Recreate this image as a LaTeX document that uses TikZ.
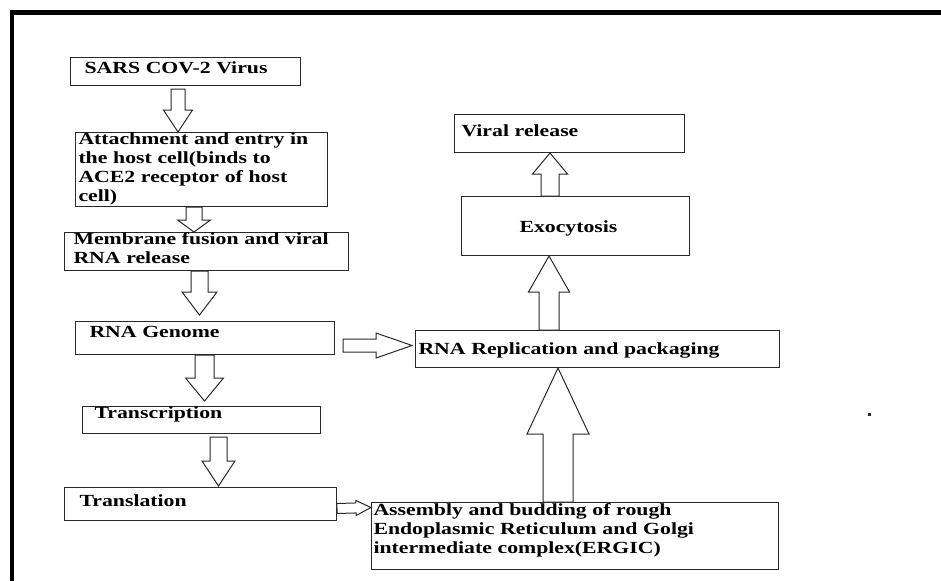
\documentclass[tikz,border=0pt]{standalone}
\usepackage{fontspec}
\setmainfont{Liberation Serif}[FakeStretch=1.28]
\usetikzlibrary{positioning, calc}
\definecolor{boxline}{RGB}{40, 40, 40}

\tikzset{
  stepbox/.style={draw=boxline, line width=1pt, anchor=north west, inner ysep=0pt, align=left,
    font=\fontsize{17}{19}\selectfont\bfseries},
  blockline/.style={draw=boxline, line width=1pt, fill=white, line join=miter},
}

% hollow block arrow: from, to, shaft half-width, head half-width, head length
\newcommand{\blockarrow}[5]{%
  \path[blockline] ($(#1)!#3!90:(#2)$) -- ($(#2)!#5!(#1)!#3!90:(#2)$) -- ($(#2)!#5!(#1)!#4!90:(#2)$)
    -- (#2) -- ($(#2)!#5!(#1)!#4!-90:(#2)$) -- ($(#2)!#5!(#1)!#3!-90:(#2)$) -- ($(#1)!#3!-90:(#2)$) -- cycle;
}

\begin{document}
\begin{tikzpicture}[x=1pt, y=-1pt]
  \useasboundingbox (0,0) rectangle (941,581);
  \draw[line width=4.5pt] (941,12.3) -- (12,12.3) -- (12,581);

  % left column
  \node[stepbox, inner xsep=14pt, text width=202pt, text height=16pt, text depth=12pt] (sars) at (70,57) {SARS COV-2 Virus};
  \node[stepbox, inner xsep=3pt, text width=246pt, text height=12pt, text depth=62pt] (attach) at (75,132)
    {Attachment and entry in\\the host cell(binds to\\ACE2 receptor of host\\cell)};
  \node[stepbox, inner xsep=9pt, text width=266pt, text height=12pt, text depth=26pt] (fusion) at (64,232)
    {Membrane fusion and viral\\RNA release};
  \node[stepbox, inner xsep=14pt, text width=231pt, text height=16pt, text depth=17pt] (genome) at (75,321) {RNA Genome};
  \node[stepbox, inner xsep=12pt, text width=214pt, text height=12pt, text depth=15pt] (transcr) at (82,406) {Transcription};
  \node[stepbox, inner xsep=15pt, text width=242pt, text height=19pt, text depth=14pt] (transl) at (64,487) {Translation};

  % right column
  \node[stepbox, inner xsep=2pt, text width=403pt, text height=13pt, text depth=54pt] (ergic) at (371,502)
    {Assembly and budding of rough\\Endoplasmic Reticulum and Golgi\\intermediate complex(ERGIC)};
  \node[stepbox, inner xsep=3pt, text width=358pt, text height=24pt, text depth=13pt] (replic) at (415,330) {RNA Replication and packaging};
  \node[stepbox, inner xsep=58pt, text width=112pt, text height=36pt, text depth=23pt] (exo) at (461,196) {Exocytosis};
  \node[stepbox, inner xsep=7pt, text width=216pt, text height=22pt, text depth=16pt] (release) at (454,114) {Viral release};

  % arrow ends
  \coordinate (a1s) at ($(sars.south west)+(108,3)$);
  \coordinate (a1e) at ($(attach.north west)+(103,0)$);
  \coordinate (a2s) at ($(attach.south west)+(119,0)$);
  \coordinate (a2e) at ($(fusion.north west)+(130,0)$);
  \coordinate (a3s) at ($(fusion.south west)+(135.5,0)$);
  \coordinate (a3e) at ($(genome.north west)+(124.5,-6)$);
  \coordinate (a4s) at ($(genome.south west)+(129.5,0)$);
  \coordinate (a4e) at ($(transcr.north west)+(122.5,-5)$);
  \coordinate (a5s) at ($(transcr.south west)+(136.5,3)$);
  \coordinate (a5e) at ($(transl.north west)+(154.5,-1)$);
  \coordinate (a6s) at ($(transl.south east)+(0,-12.5)$);
  \coordinate (a6e) at ($(ergic.north west)+(0,5.5)$);
  \coordinate (a7s) at ($(genome.north east)+(8,24.5)$);
  \coordinate (a7e) at ($(replic.north west)+(-3,15.5)$);
  \coordinate (a8s) at ($(ergic.north west)+(187,0)$);
  \coordinate (a8e) at ($(replic.south west)+(143,0)$);
  \coordinate (a9s) at ($(replic.north west)+(134,0)$);
  \coordinate (a9e) at ($(exo.south west)+(88,0)$);
  \coordinate (a10s) at ($(exo.north west)+(89,0)$);
  \coordinate (a10e) at ($(release.south west)+(96,0)$);

  \blockarrow{a1s}{a1e}{7pt}{14.5pt}{22pt}
  \blockarrow{a2s}{a2e}{8pt}{16.5pt}{12pt}
  \blockarrow{a3s}{a3e}{8.5pt}{17.5pt}{23pt}
  \blockarrow{a4s}{a4e}{9.5pt}{19pt}{23pt}
  \blockarrow{a5s}{a5e}{8.5pt}{16.5pt}{25pt}
  \blockarrow{a6s}{a6e}{5pt}{7.5pt}{15pt}
  \blockarrow{a7s}{a7e}{6.5pt}{12.5pt}{36pt}
  \blockarrow{a8s}{a8e}{15pt}{31pt}{66pt}
  \blockarrow{a9s}{a9e}{10pt}{20.5pt}{36pt}
  \blockarrow{a10s}{a10e}{9pt}{17.5pt}{21pt}

  \fill[boxline] (867.5,412.5) rectangle (870.5,415.5);
\end{tikzpicture}
\end{document}
